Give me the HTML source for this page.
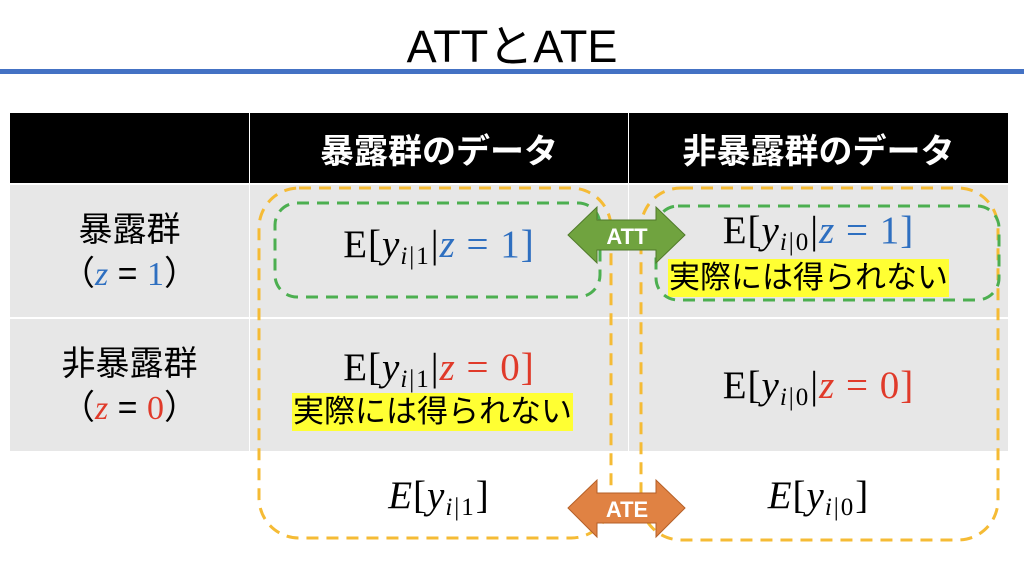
<!DOCTYPE html>
<html><head><meta charset="utf-8"><style>
body{margin:0;width:1024px;height:565px;background:#fff;position:relative;overflow:hidden;font-family:"Liberation Sans","Noto Sans CJK JP",sans-serif}
.a{position:absolute}
.hd{background:#000;color:#fff;font-weight:bold;font-size:34px;display:flex;align-items:center;justify-content:center}
.g{background:#e7e7e7}
.m{font-family:"Liberation Serif","DejaVu Serif",serif;font-size:39px;white-space:nowrap;text-align:center;letter-spacing:1px}
.m i{font-style:italic}
sub{font-size:25px;vertical-align:-7px;letter-spacing:2px}
.b{color:#2e6fc0}.r{color:#e03a2a}
.y{background:#ffff33;font-size:31px;padding:0 1px;color:#000;white-space:nowrap;line-height:38px}
.lab{font-size:34px;text-align:center;line-height:44px}
</style></head><body>
<div class="a" style="left:0;width:1024px;top:10px;text-align:center;font-size:45px">ATTとATE</div>
<div class="a" style="left:0;top:69px;width:1024px;height:5px;background:#4472c4"></div>
<div class="a hd" style="left:10px;top:113px;width:239px;height:70px"></div>
<div class="a hd" style="left:250px;top:113px;width:378px;height:70px">暴露群のデータ</div>
<div class="a hd" style="left:629px;top:113px;width:379px;height:70px">非暴露群のデータ</div>
<div class="a g" style="left:10px;top:185px;width:239px;height:132px"></div>
<div class="a g" style="left:250px;top:185px;width:378px;height:132px"></div>
<div class="a g" style="left:629px;top:185px;width:379px;height:132px"></div>
<div class="a g" style="left:10px;top:319px;width:239px;height:132px"></div>
<div class="a g" style="left:250px;top:319px;width:378px;height:132px"></div>
<div class="a g" style="left:629px;top:319px;width:379px;height:132px"></div>
<div class="a lab" style="left:10px;width:239px;top:208px">暴露群<br>（<i class="b" style="font-family:'Liberation Serif',serif">z</i> = <span class="b" style="font-family:'Liberation Serif',serif">1</span>）</div>
<div class="a lab" style="left:10px;width:239px;top:342px">非暴露群<br>（<i class="r" style="font-family:'Liberation Serif',serif">z</i> = <span class="r" style="font-family:'Liberation Serif',serif">0</span>）</div>
<div class="a m" style="left:250px;width:378px;top:222px">E[<i>y</i><sub><i>i</i>|1</sub>|<span class="b"><i>z</i>&nbsp;=&nbsp;1]</span></div>
<div class="a m" style="left:629px;width:379px;top:208px">E[<i>y</i><sub><i>i</i>|0</sub>|<span class="b"><i>z</i>&nbsp;=&nbsp;1]</span></div>
<div class="a y" style="left:668px;top:259px">実際には得られない</div>
<div class="a m" style="left:250px;width:378px;top:345px">E[<i>y</i><sub><i>i</i>|1</sub>|<span class="r"><i>z</i>&nbsp;=&nbsp;0]</span></div>
<div class="a y" style="left:292px;top:393px">実際には得られない</div>
<div class="a m" style="left:629px;width:379px;top:363px">E[<i>y</i><sub><i>i</i>|0</sub>|<span class="r"><i>z</i>&nbsp;=&nbsp;0]</span></div>
<div class="a m" style="left:250px;width:378px;top:473px"><i>E</i>[<i>y</i><sub><i>i</i>|1</sub>]</div>
<div class="a m" style="left:629px;width:379px;top:473px"><i>E</i>[<i>y</i><sub><i>i</i>|0</sub>]</div>
<svg class="a" style="left:0;top:0" width="1024" height="565">
<g fill="none" stroke-width="3" stroke-dasharray="12 8">
<rect x="259" y="188" width="352" height="350" rx="40" stroke="#f5bb35"/>
<rect x="641" y="188" width="357" height="352" rx="40" stroke="#f5bb35"/>
<rect x="275" y="203" width="325" height="94" rx="22" stroke="#4caf50"/>
<rect x="656" y="206" width="343" height="94" rx="22" stroke="#4caf50"/>
</g>
<polygon points="568,235 597,207 597,220 656,220 656,207 685,235 656,263 656,250 597,250 597,263" fill="#70a33f" stroke="#4f7a2a"/>
<text x="627" y="244" text-anchor="middle" fill="#fff" font-weight="bold" font-size="22" font-family="Liberation Sans">ATT</text>
<polygon points="568,508 597,480 597,493 656,493 656,480 685,508 656,537 656,523 597,523 597,537" fill="#e08243" stroke="#b45f27"/>
<text x="627" y="517" text-anchor="middle" fill="#fff" font-weight="bold" font-size="22" font-family="Liberation Sans">ATE</text>
</svg>
</body></html>
